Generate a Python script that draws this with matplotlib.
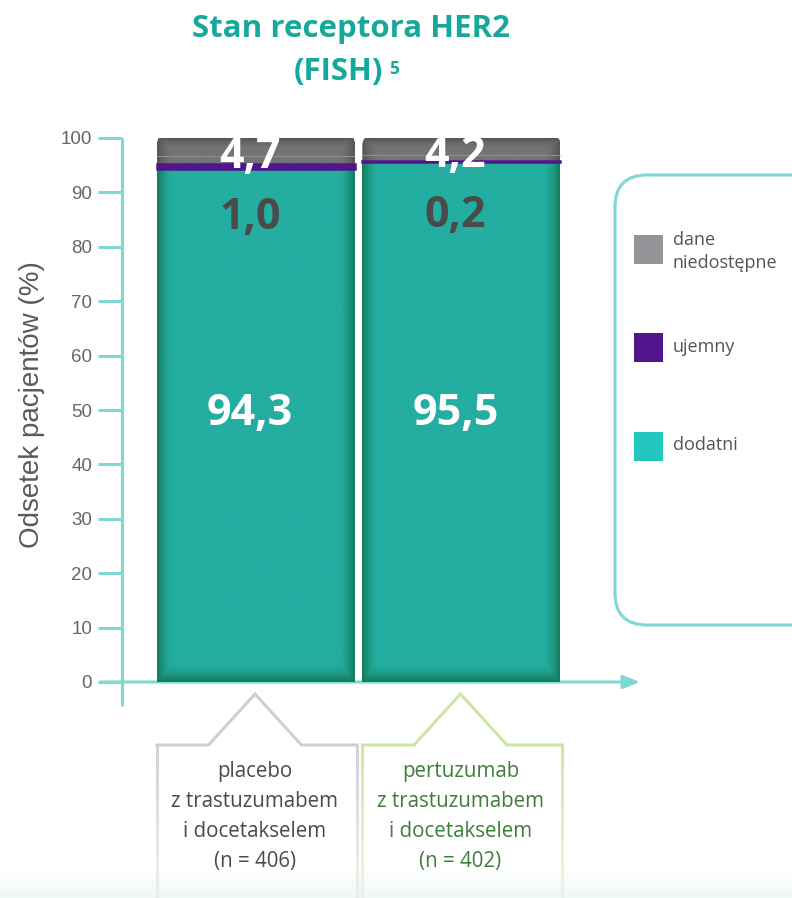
import numpy as np
import matplotlib.pyplot as plt
from matplotlib.patches import FancyBboxPatch, Rectangle
from matplotlib.collections import LineCollection
from matplotlib.colors import to_rgb

W, H = 792, 898

# data
groups = ['placebo\nz trastuzumabem\ni docetakselem\n(n = 406)',
          'pertuzumab\nz trastuzumabem\ni docetakselem\n(n = 402)']
dodatni = [94.3, 95.5]
ujemny = [1.0, 0.2]
niedostepne = [4.7, 4.2]
legend_names = ['dane\nniedostępne', 'ujemny', 'dodatni']
yticks = list(range(0, 101, 10))

AXIS = '#7FD8D3'
TEAL = '#24ADA1'
TEAL_DARK = '#137C5C'
PURPLE = '#52148D'
GRAY = '#737476'
GRAY_DARK = '#555658'
TXT = '#4A4A4A'
GREEN_TXT = '#3E7E3A'
FONT = 'Open Sans'


def fmt(v):
    return '{:.1f}'.format(v).replace('.', ',')


fig = plt.figure(figsize=(W / 100, H / 100), dpi=100)

# overlay in figure pixels for the decorations
ov = fig.add_axes([0, 0, 1, 1])
ov.set_xlim(0, W)
ov.set_ylim(H, 0)
ov.axis('off')

ax = fig.add_axes([122 / W, 1 - 682 / H, (640 - 122) / W, 544 / H])
ax.patch.set_alpha(0)
ax.set_autoscale_on(False)
xl, xr = -0.652, 1.8686
ax.set_xlim(xl, xr)
ax.set_ylim(0, 100)
for s in ax.spines.values():
    s.set_visible(False)

# pixel per data unit
p0 = ax.transData.transform((0, 0))
p1 = ax.transData.transform((1, 1))
sx, sy = p1[0] - p0[0], p1[1] - p0[1]

x = np.arange(len(groups))
bw = 198 / sx
bottom2 = np.add(dodatni, ujemny)

b_pos = ax.bar(x, dodatni, width=bw, color=TEAL, zorder=3)
b_neg = ax.bar(x, ujemny, bottom=dodatni, width=bw, color=PURPLE,
               edgecolor=PURPLE, linewidth=1.8, zorder=5)
b_na = ax.bar(x, niedostepne, bottom=bottom2, width=bw, color=GRAY, zorder=3)


def shade(rect, c_in, c_out, fx, fb=0, ft=0, z=4, clip=None, power=1.6):
    x0, y0 = rect.get_x(), rect.get_y()
    w, h = rect.get_width(), rect.get_height()
    wpx, hpx = w * sx, h * sy
    U, V = np.meshgrid(np.linspace(0, 1, 240), np.linspace(0, 1, 300))
    t = np.clip(1 - np.minimum(U, 1 - U) * wpx / fx, 0, 1)
    if fb:
        t = np.maximum(t, np.clip(1 - V * hpx / fb, 0, 1))
    if ft:
        t = np.maximum(t, np.clip(1 - (1 - V) * hpx / ft, 0, 1))
    t = t ** power
    img = (1 - t)[..., None] * np.array(to_rgb(c_in)) + t[..., None] * np.array(to_rgb(c_out))
    im = ax.imshow(img, extent=[x0, x0 + w, y0, y0 + h], origin='lower',
                   aspect='auto', interpolation='bilinear', zorder=z)
    if clip is not None:
        im.set_clip_path(clip)


for r in b_pos:
    shade(r, TEAL, TEAL_DARK, fx=16, fb=18)

r_px = 10
for r in b_na:
    clip = FancyBboxPatch((r.get_x(), r.get_y() - 5), r.get_width(), r.get_height() + 5.6,
                          boxstyle='round,pad=0,rounding_size={}'.format(r_px / sx),
                          mutation_aspect=(r_px / sy) / (r_px / sx),
                          transform=ax.transData)
    r.set_clip_path(clip)
    shade(r, GRAY, GRAY_DARK, fx=14, ft=10, clip=clip, power=1.3)
    ax.hlines(r.get_y() + 0.3 * r.get_height(), r.get_x(), r.get_x() + r.get_width(),
              color='#8E8F91', lw=0.8, zorder=4.5)

# axes lines
ax.plot([xl, xl], [-4.4, 100], color=AXIS, lw=2.2, clip_on=False,
        solid_capstyle='butt', zorder=2)
ax.annotate('', xy=(xr, 0), xytext=(xl - 22 / sx, 0),
            arrowprops=dict(arrowstyle='-|>,head_length=1.0,head_width=0.4',
                            color=AXIS, lw=2.2, shrinkA=0, shrinkB=0),
            annotation_clip=False, zorder=1)
ax.set_xticks([])
ax.set_yticks(yticks)
ax.tick_params(axis='y', length=17.5, width=2.2, color=AXIS,
               labelcolor='#666666', labelsize=13.5, pad=4)
for lab in ax.get_yticklabels():
    lab.set_family('Liberation Sans')

# value labels (placed by baseline; cap height is about 30 px)
off = -0.03
cap = 30 / sy / 2
for i in range(len(groups)):
    centres = [(bottom2[i] + niedostepne[i] / 2 - 0.45, fmt(niedostepne[i]), 'white'),
               (bottom2[i] - 9.3, fmt(ujemny[i]), TXT),
               (50, fmt(dodatni[i]), 'white')]
    for yc, s, c in centres:
        ax.text(x[i] + off, yc - cap, s, color=c, fontsize=31, fontweight='bold',
                family=FONT, ha='center', va='baseline', zorder=7)

fig.text(32 / W, 1 - 405 / H, 'Odsetek pacjentów (%)', rotation=90,
         ha='center', va='center', fontsize=20, color='#5A5A5A',
         family='Liberation Sans')

# title
TITLE = '#16A99B'
ov.text(351, 37, 'Stan receptora HER2', ha='center', va='baseline',
        fontsize=22.5, fontweight='bold', color=TITLE, family=FONT)
ov.text(383, 80, '(FISH)', ha='right', va='baseline',
        fontsize=22.5, fontweight='bold', color=TITLE, family=FONT)
ov.text(389, 74, '5', ha='left', va='baseline',
        fontsize=12.5, fontweight='bold', color=TITLE, family=FONT)

# faint band at the bottom
band = np.linspace(0, 1, 50)[:, None] * np.ones((1, 10))
band_rgb = 1 - band[..., None] * (1 - np.array(to_rgb('#EFF8F7')))
ov.imshow(band_rgb, extent=[0, W, H, 868], aspect='auto', zorder=0)
ov.set_xlim(0, W)
ov.set_ylim(H, 0)

# pointer boxes under the bars
box_cols = ['#CFCFCF', '#CDE5A2']
txt_cols = [TXT, GREEN_TXT]
for i, r in enumerate(b_pos):
    left = ax.transData.transform((r.get_x(), 0))[0]
    right = ax.transData.transform((r.get_x() + r.get_width(), 0))[0] + 2
    cx = ax.transData.transform((x[i], 0))[0] - 1
    top, peak, half = 745, 694, 46.5
    col = np.array(to_rgb(box_cols[i]))
    ov.plot([left, cx - half, cx, cx + half, right], [top, top, peak, top, top],
            color=col, lw=2.2, solid_joinstyle='miter', zorder=3)
    ys = np.linspace(top, H, 40)
    for sxp in (left, right):
        segs = [[(sxp, ys[k]), (sxp, ys[k + 1])] for k in range(len(ys) - 1)]
        alphas = np.linspace(1, 0.25, len(segs))
        cols = [(col[0], col[1], col[2], a) for a in alphas]
        ov.add_collection(LineCollection(segs, colors=cols, linewidths=2.2, zorder=3))
    for k, line in enumerate(groups[i].split('\n')):
        ov.text(cx, 771 + 30.3 * k, line, ha='center', va='center',
                fontsize=14.8, color=txt_cols[i], family=FONT, zorder=4)

# legend
ov.add_patch(FancyBboxPatch((615, 175), 240, 450, boxstyle='round,pad=0,rounding_size=32',
                            facecolor='white', edgecolor=AXIS, lw=2.2, zorder=2))
leg_cols = ['#939598', '#54148C', '#22C7BE']
sq_tops = [235, 333, 432]
baselines = [245, 352, 450]
for name, c, ty, bl in zip(legend_names, leg_cols, sq_tops, baselines):
    ov.add_patch(Rectangle((634, ty), 29, 29, facecolor=c, edgecolor='none', zorder=3))
    for k, line in enumerate(name.split('\n')):
        ov.text(673, bl + 23 * k, line, ha='left', va='baseline', fontsize=13,
                color='#555555', family=FONT, zorder=3)

fig.savefig('out.png', dpi=100)
